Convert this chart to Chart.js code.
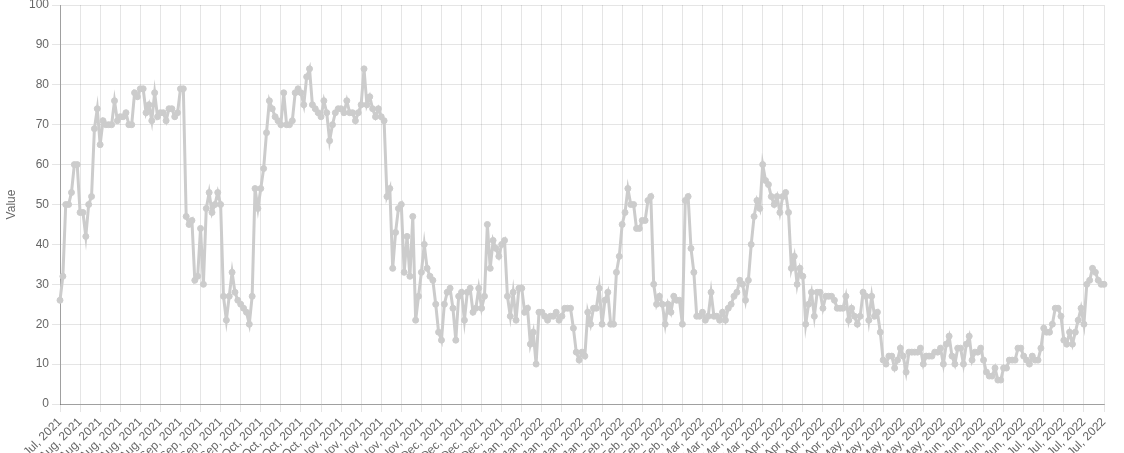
<!DOCTYPE html>
<html>
<head>
<meta charset="utf-8">
<script src="https://cdn.jsdelivr.net/npm/chart.js@4"></script>
<style>
html,body{margin:0;padding:0;background:#fff;}
#wrap{width:1124px;height:453px;}
</style>
</head>
<body>
<div id="wrap"><canvas id="c" width="1124" height="453"></canvas></div>
<script>
// Daily series starting Monday 26 Jul 2021 (365 days)
const START_DATE = '2021-07-26';
const MONTHS = ['Jan','Feb','Mar','Apr','May','Jun','Jul','Aug','Sep','Oct','Nov','Dec'];
const TICK_EVERY = 7;
const Y_TICKS = [0,10,20,30,40,50,60,70,80,90,100];
const values = [
  26,32,50,50,53,60,60,48,48,42,
  50,52,69,74,65,71,70,70,70,76,
  71,72,72,73,70,70,78,77,79,79,
  73,75,71,78,72,73,73,71,74,74,
  72,73,79,79,47,45,46,31,32,44,
  30,49,53,48,50,53,50,27,21,27,
  33,28,26,25,24,23,20,27,54,49,
  54,59,68,76,74,72,71,70,78,70,
  70,71,78,79,78,75,82,84,75,74,
  73,72,76,73,66,70,73,74,74,73,
  76,73,73,71,73,75,84,75,77,74,
  72,74,72,71,52,54,34,43,49,50,
  33,42,32,47,21,27,33,40,34,32,
  31,25,18,16,25,28,29,24,16,27,
  28,21,28,29,23,24,29,24,27,45,
  34,41,39,37,40,41,27,22,28,21,
  29,29,23,24,15,18,10,23,23,22,
  21,22,22,23,21,22,24,24,24,19,
  13,11,13,12,23,20,24,24,29,20,
  26,28,20,20,33,37,45,48,54,50,
  50,44,44,46,46,51,52,30,25,27,
  25,20,25,23,27,26,26,20,51,52,
  39,33,22,22,23,21,22,28,22,22,
  21,23,21,24,25,27,28,31,30,26,
  31,40,47,51,49,60,56,55,52,50,
  52,48,52,53,48,34,37,30,34,32,
  20,25,28,22,28,28,24,27,27,27,
  26,24,24,24,27,21,24,22,20,22,
  28,27,21,27,22,23,18,11,10,12,
  12,9,11,14,12,8,13,13,13,13,
  14,10,12,12,12,13,13,14,10,15,
  17,12,10,14,14,10,15,17,11,13,
  13,14,11,8,7,7,9,6,6,9,
  9,11,11,11,14,14,12,11,10,12,
  11,11,14,19,18,18,20,24,24,22,
  16,15,18,15,18,21,24,20,30,31,
  34,33,31,30,30
];

const labels = [];
const d0 = new Date(START_DATE + 'T00:00:00Z');
for (let i = 0; i < values.length; i++) {
  const d = new Date(d0.getTime() + i * 86400000);
  labels.push(MONTHS[d.getUTCMonth()] + ', ' + d.getUTCFullYear());
}

const LINE = 'rgb(204, 204, 204)';
const GRID = 'rgba(0,0,0,0.1)';

new Chart(document.getElementById('c'), {
  type: 'line',
  data: {
    labels: labels,
    datasets: [{
      label: 'Value',
      data: values,
      borderColor: LINE,
      backgroundColor: LINE,
      borderWidth: 3,
      pointRadius: 3,
      pointBorderWidth: 1,
      pointBackgroundColor: LINE,
      pointBorderColor: LINE,
      tension: 0,
      fill: false
    }]
  },
  options: {
    responsive: false,
    animation: false,
    layout: { padding: { right: 20 } },
    plugins: { legend: { display: false }, tooltip: { enabled: false } },
    scales: {
      x: {
        afterFit: s => { s.height = 49; s.paddingRight = 0; s.paddingLeft = 0; },
        ticks: {
          autoSkip: false,
          minRotation: 45,
          maxRotation: 45,
          color: '#666',
          callback: function(v, i) { return i % TICK_EVERY === 0 ? this.getLabelForValue(v) : ''; }
        },
        grid: {
          color: ctx => (ctx.index % TICK_EVERY === 0 ? GRID : 'rgba(0,0,0,0)')
        },
        border: { color: 'rgba(0,0,0,0.3)' }
      },
      y: {
        min: Y_TICKS[0],
        max: Y_TICKS[Y_TICKS.length - 1],
        afterFit: s => { s.width = 60; s.paddingTop = 5; s.paddingBottom = 0; },
        ticks: { stepSize: 10, color: '#666' },
        grid: { color: GRID },
        border: { color: 'rgba(0,0,0,0.3)' },
        title: { display: true, text: 'Value', color: '#666' }
      }
    }
  }
});
</script>
</body>
</html>
